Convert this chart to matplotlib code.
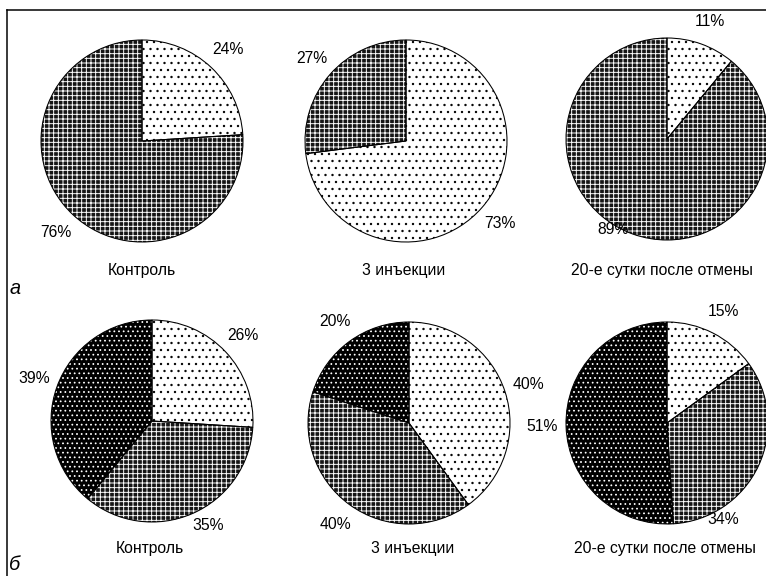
import matplotlib
matplotlib.use("Agg")
import matplotlib.pyplot as plt

plt.rcParams.update({"font.family": ["Liberation Sans", "DejaVu Sans"],
                     "hatch.linewidth": 0.8})

W, H, DPI = 766, 576, 84

groups = ["Контроль", "3 инъекции", "20-е сутки после отмены"]
row_a = [[24, 76], [73, 27], [11, 89]]
row_b = [[26, 35, 39], [40, 40, 20], [15, 34, 51]]
letters = ["а", "б"]

# fill styles: face, hatch colour, hatch
DOTS = ("white", "black", "..")
CROSS = ("#151515", "white", "+++")
BLACKDOTS = ("black", "white", "...")

styles_a = [[DOTS, CROSS], [DOTS, CROSS], [DOTS, CROSS]]
styles_b = [[DOTS, CROSS, BLACKDOTS]] * 3

# layout in pixels (x right, y down)
cent_a = [(142, 141), (406, 141), (667, 139)]
cent_b = [(152, 421), (409, 423), (667, 423)]
R = 101
cap_a = [(142, 270), (404, 270), (662, 270)]
cap_b = [(150, 549), (413, 549), (665, 549)]
letter_pos = [(15, 289), (15, 565)]
label_fix = {(0, 2, 1): (613, 230), (1, 2, 1): (723, 520), (1, 0, 1): (208, 525)}
FS = 13.5

fig = plt.figure(figsize=(W / DPI, H / DPI), dpi=DPI)
ax = fig.add_axes([0, 0, 1, 1])


def draw_pie(row, i, vals, sty, c):
    cx, cy = c[0], H - c[1]
    wedges, texts = ax.pie(vals, center=(cx, cy), radius=R, startangle=90,
                           counterclock=False, labels=[f"{v}%" for v in vals],
                           labeldistance=1.24, frame=True,
                           wedgeprops=dict(linewidth=0),
                           textprops=dict(fontsize=FS))
    for w, (fc, hc, h) in zip(wedges, sty):
        w.set_facecolor(fc); w.set_edgecolor(hc); w.set_hatch(h)
    # outlines on top
    ax.pie(vals, center=(cx, cy), radius=R, startangle=90, counterclock=False,
           frame=True, wedgeprops=dict(facecolor="none", edgecolor="black", linewidth=0.9))
    for k, t in enumerate(texts):
        t.set_ha("center"); t.set_va("center")
        if (row, i, k) in label_fix:
            px, py = label_fix[(row, i, k)]
            t.set_position((px, H - py))


for i in range(3):
    draw_pie(0, i, row_a[i], styles_a[i], cent_a[i])
    draw_pie(1, i, row_b[i], styles_b[i], cent_b[i])
    ax.text(cap_a[i][0], H - cap_a[i][1], groups[i], ha="center", va="center", fontsize=FS)
    ax.text(cap_b[i][0], H - cap_b[i][1], groups[i], ha="center", va="center", fontsize=FS)

for s, (px, py) in zip(letters, letter_pos):
    ax.text(px, H - py, s, ha="center", va="center", fontsize=17, style="italic")

ax.set_xlim(0, W); ax.set_ylim(0, H)
ax.set_aspect("auto")
ax.axis("off")

# frame (right and bottom run off the picture)
ax.plot([7, W + 5], [H - 10, H - 10], color="black", lw=1.3, clip_on=False)
ax.plot([7, 7], [H - 10, -5], color="black", lw=1.3, clip_on=False)

fig.savefig("out.png", dpi=DPI)
